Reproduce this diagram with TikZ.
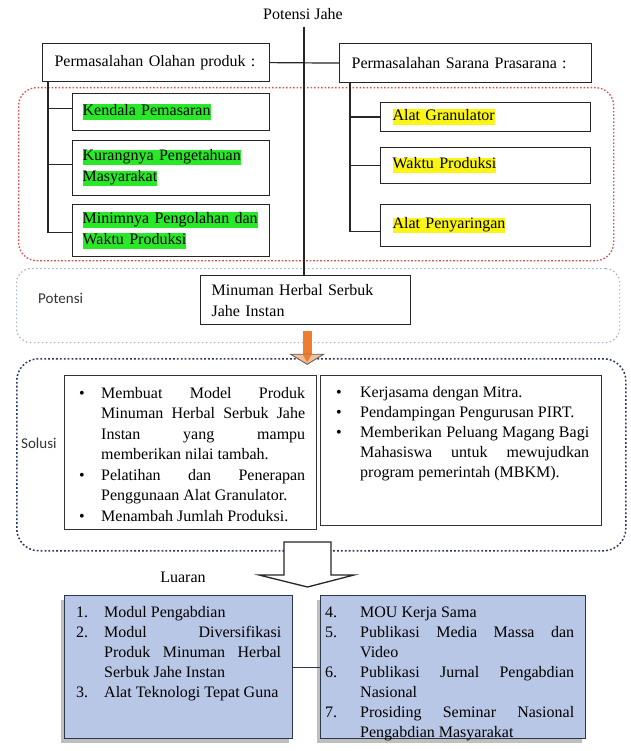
\documentclass[tikz,border=0pt]{standalone}
\usepackage{fontspec}
\setmainfont{Liberation Serif}
\newfontfamily\calfont{Carlito}
\usetikzlibrary{shadows,calc}
\definecolor{hlgreen}{RGB}{40,232,40}
\definecolor{hlyellow}{RGB}{250,245,20}
\definecolor{redframe}{RGB}{215,80,80}
\definecolor{potframe}{RGB}{165,178,205}
\definecolor{solframe}{RGB}{40,55,100}
\definecolor{lfill}{RGB}{184,199,229}
\definecolor{lborder}{RGB}{45,55,75}
\definecolor{orangeA}{RGB}{237,125,49}
\definecolor{orangeH}{RGB}{245,190,150}
\newcommand\J[1]{\makebox[\linewidth][s]{#1}}
\newcommand\hlg[1]{{\setlength\fboxsep{0pt}\colorbox{hlgreen}{\rule[-4.5pt]{0pt}{15.5pt}#1}}}
\newcommand\hly[1]{{\setlength\fboxsep{0pt}\colorbox{hlyellow}{\rule[-4.5pt]{0pt}{15.5pt}#1}}}
\begin{document}
\begin{tikzpicture}[x=1pt,y=-1pt,
  txt/.style={font=\fontsize{16}{20}\selectfont, text=black},
  box/.style={txt, draw=black!85, line width=1.2pt, rectangle, inner ysep=0pt, anchor=north west, align=left, font=\fontsize{16}{21}\selectfont},
  conn/.style={draw=black!85, line width=1.2pt},
  frame/.style={rectangle, rounded corners=18pt, anchor=north west, inner sep=0pt},
  sbox/.style={draw=black!80, line width=1.3pt, rectangle, anchor=north west, inner sep=0pt},
  lbox/.style={draw=lborder, line width=1.4pt, fill=lfill, rectangle, anchor=north west, inner sep=0pt,
     drop shadow={shadow xshift=-4pt, shadow yshift=-4pt, fill=black!45, opacity=.55}},
  block/.style={txt, anchor=north west, inner sep=0pt},
  side/.style={font=\calfont\fontsize{15}{18}\selectfont, text=black!80, inner sep=0pt, anchor=west}
]
\useasboundingbox[fill=white] (0,0) rectangle (630,751);

% frames
\node[frame, draw=redframe, line width=1.3pt, dash pattern=on 1.6pt off 1.9pt, minimum width=595pt, minimum height=173pt] (fprob) at (18,87) {};
\node[frame, rounded corners=14pt, draw=potframe, line width=1.2pt, dash pattern=on 1.5pt off 2.5pt, minimum width=603pt, minimum height=74pt] (fpot) at (16,268) {};
\node[frame, rounded corners=22pt, draw=solframe, line width=1.5pt, dash pattern=on 1.8pt off 2.1pt, minimum width=609pt, minimum height=192pt] (fsol) at (16,358) {};

% title
\node[txt, anchor=base, inner sep=0pt] (pj) at (303,20) {Potensi Jahe};
\coordinate (vt) at (304,27);

% top boxes
\node[box, minimum width=227pt, minimum height=38pt, text width=203pt, inner xsep=12pt] (pol) at (42,43) {Permasalahan Olahan produk :};
\node[box, minimum width=252pt, minimum height=39pt, text width=228pt, inner xsep=12pt] (psp) at (339,43) {Permasalahan Sarana Prasarana :};

% left sub boxes
\node[box, minimum width=197pt, minimum height=37pt, text width=177pt, inner xsep=10pt] (k1) at (72,93) {\hlg{Kendala Pemasaran}};
\node[box, minimum width=197pt, minimum height=55pt, text width=177pt, inner xsep=10pt] (k2) at (72,140) {\hlg{Kurangnya Pengetahuan}\\\hlg{Masyarakat}};
\node[box, minimum width=197pt, minimum height=52pt, text width=177pt, inner xsep=10pt] (k3) at (72,204) {\hlg{Minimnya Pengolahan dan}\\\hlg{Waktu Produksi}};

% right sub boxes
\node[box, minimum width=210pt, minimum height=29pt, text width=186pt, inner xsep=12pt] (s1) at (380,102) {\hly{Alat Granulator}};
\node[box, minimum width=210pt, minimum height=36pt, text width=186pt, inner xsep=12pt] (s2) at (380,147) {\hly{Waktu Produksi}};
\node[box, minimum width=210pt, minimum height=42pt, text width=186pt, inner xsep=12pt] (s3) at (380,204) {\hly{Alat Penyaringan}};

% connectors top
\draw[conn] (pol.east) -- (psp.west);
\draw[conn] ([xshift=6pt]pol.south west) |- ([yshift=-2pt]k3.west);
\draw[conn] ([xshift=6pt]pol.south west |- k1.west) ++(0,-3.5) -- ([yshift=3.5pt]k1.west);
\draw[conn] ([xshift=6pt]pol.south west |- k2.west) ++(0,-3.5) -- ([yshift=3.5pt]k2.west);
\draw[conn] ([xshift=11pt]psp.south west) |- ([yshift=-6pt]s3.west);
\draw[conn] ([xshift=11pt]psp.south west |- s1.west) -- (s1.west);
\draw[conn] ([xshift=11pt]psp.south west |- s2.west) -- (s2.west);

% potensi
\node[side] (lpot) at (38,298) {Potensi};
\node[box, line width=1.3pt, minimum width=210pt, minimum height=49pt, text width=188pt, inner xsep=11pt] (mhs) at (200,275) {Minuman Herbal Serbuk\\Jahe Instan};
\draw[conn] (vt) -- (vt |- mhs.north);

% orange arrow
\fill[orangeA] ($(mhs.south)+(-3,6)$) rectangle ($(mhs.south)+(6,31)$);
\draw[fill=orangeH, draw=black!65, line width=0.8pt] ($(mhs.south)+(-15,29)$) -- ($(mhs.south)+(18,29)$) -- ($(mhs.south)+(1.5,39)$) -- cycle;
\fill[orangeA] ($(mhs.south)+(-3,29)$) -- ($(mhs.south)+(6,29)$) -- ($(mhs.south)+(1.5,37)$) -- cycle;

% solusi
\node[side] (lsol) at (21,443) {Solusi};
\node[sbox, minimum width=252pt, minimum height=154pt] (sl) at (64,375) {};
\node[sbox, minimum width=281pt, minimum height=150pt] (sr) at (320,375) {};
\node[block, font=\fontsize{16}{20.5}\selectfont] (tsl) at (79,383.5) {\begin{tabular}{@{}p{22pt}@{}p{204pt}@{}}
\textbullet & \J{Membuat Model Produk}\newline\J{Minuman Herbal Serbuk Jahe}\newline\J{Instan yang mampu}\newline memberikan nilai tambah.\\
\textbullet & \J{Pelatihan dan Penerapan}\newline Penggunaan Alat Granulator.\\
\textbullet & Menambah Jumlah Produksi.
\end{tabular}};
\node[block] (tsr) at (336,383) {\begin{tabular}{@{}p{24pt}@{}p{229pt}@{}}
\textbullet & Kerjasama dengan Mitra.\\
\textbullet & Pendampingan Pengurusan PIRT.\\
\textbullet & \J{Memberikan Peluang Magang Bagi}\newline\J{Mahasiswa untuk mewujudkan}\newline program pemerintah (MBKM).
\end{tabular}};

% hollow arrow
\coordinate (ha) at (307.5,542);
\draw[fill=white, draw=black!85, line width=1.3pt] ($(ha)+(-23.5,0)$) -- ($(ha)+(23.5,0)$) -- ($(ha)+(23.5,33)$) -- ($(ha)+(46.5,33)$) -- ($(ha)+(0,45)$) -- ($(ha)+(-48.5,33)$) -- ($(ha)+(-23.5,33)$) -- cycle;
\node[txt, anchor=base, inner sep=0pt] (lua) at (183,582) {Luaran};

% luaran boxes
\node[lbox, minimum width=228pt, minimum height=143pt] (ll) at (64,595) {};
\node[lbox, minimum width=265pt, minimum height=143pt] (lr) at (320,595) {};
\draw[draw=lborder, line width=1.4pt] (ll.east) -- (lr.west);
\node[block] (tll) at (76,603) {\begin{tabular}{@{}p{28pt}@{}p{177pt}@{}}
1. & Modul Pengabdian\\
2. & \J{Modul Diversifikasi}\newline\J{Produk Minuman Herbal}\newline Serbuk Jahe Instan\\
3. & Alat Teknologi Tepat Guna
\end{tabular}};
\node[block] (tlr) at (325,603) {\begin{tabular}{@{}p{35pt}@{}p{214pt}@{}}
4. & MOU Kerja Sama\\
5. & \J{Publikasi Media Massa dan}\newline Video\\
6. & \J{Publikasi Jurnal Pengabdian}\newline Nasional\\
7. & \J{Prosiding Seminar Nasional}\newline Pengabdian Masyarakat
\end{tabular}};
\end{tikzpicture}
\end{document}
